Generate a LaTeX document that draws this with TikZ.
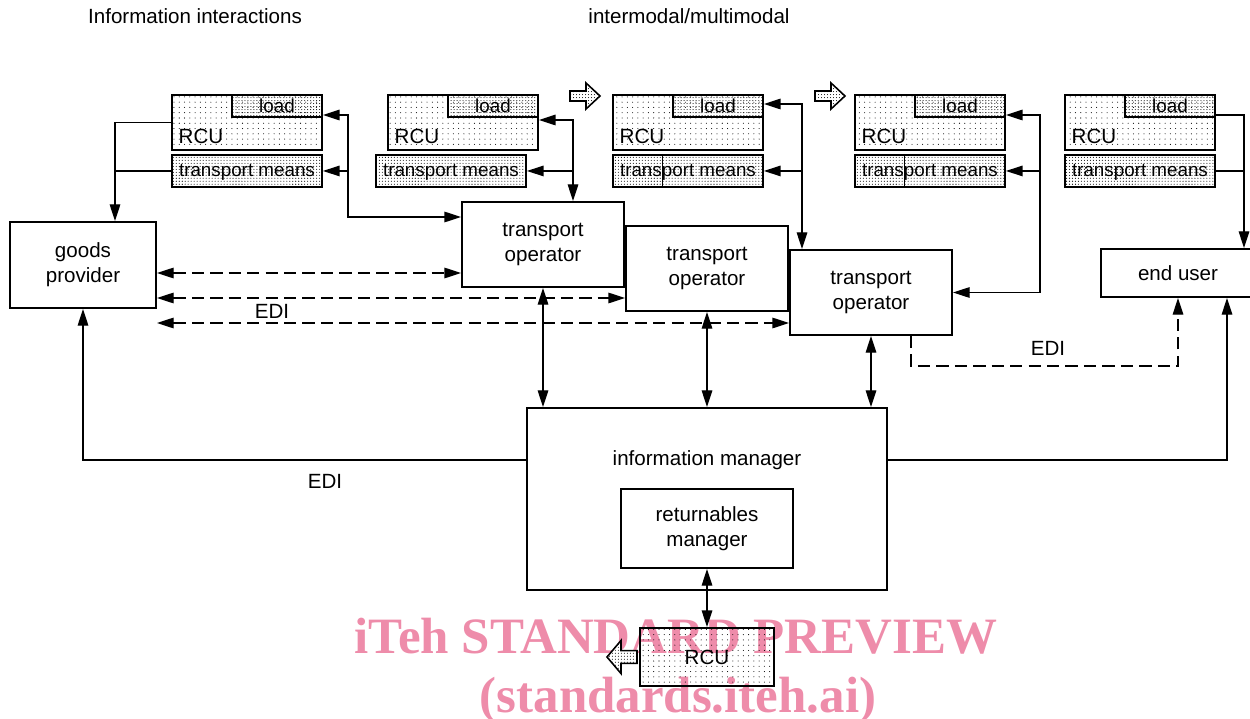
\documentclass[tikz,border=0pt]{standalone}
\usepackage{fontspec}
\setmainfont{Liberation Sans}
\newfontfamily\markfont{Liberation Serif}
\usetikzlibrary{arrows.meta,patterns.meta,calc}
\definecolor{markpink}{RGB}{238,140,170}

\begin{document}
\begin{tikzpicture}[>={Triangle[length=9.5pt,width=6pt]}, line width=0.75pt,
    font=\fontsize{11.7}{14.2}\selectfont,
    mainbox/.style={draw, line width=1.1pt, minimum width=3.24cm, minimum height=1.7cm, align=center, inner sep=0pt},
    rcubox/.style={draw, line width=1.1pt, minimum width=3cm, minimum height=1.1cm, inner sep=0pt, pattern={Dots[distance=3pt,radius=0.3pt]}},
    densebox/.style={draw, line width=1.1pt, inner sep=0pt, pattern={Dots[distance=1.7pt,radius=0.3pt]}, font=\fontsize{10.7}{12}\selectfont},
    edi/.style={dash pattern=on 7pt off 3.5pt},
    bigarrow/.style={draw, line width=0.9pt, fill=white, postaction={pattern={Dots[distance=1.7pt,radius=0.3pt]}}},
    watermark/.style={text=markpink, anchor=base, inner sep=0pt, font=\markfont\bfseries\fontsize{29}{34}\selectfont}]

    \useasboundingbox (0,0) rectangle (25,-14.38);

    \node[watermark] (wm1) at (13.52,-13.06) {iTeh STANDARD PREVIEW};
    \node[watermark] (wm2) at (13.56,-14.24) {(standards.iteh.ai)};

    \node (title1) at (3.90,-0.32) {Information interactions};
    \node (title2) at (13.78,-0.32) {intermodal/multimodal};

    \foreach \n/\x/\m in {1/3.42/3.42, 2/7.74/7.50, 3/12.24/12.24, 4/17.08/17.08, 5/21.28/21.28} {
        \node[rcubox, anchor=north west] (rcu\n) at (\x,-1.88) {};
        \node[anchor=base west, inner sep=0pt] (rcutext\n) at ($(rcu\n.south west)+(0.14,0.15)$) {RCU};
        \node[densebox, anchor=north east, minimum width=1.8cm, minimum height=0.44cm] (load\n) at (rcu\n.north east) {load};
        \node[densebox, anchor=north west, minimum width=3cm, minimum height=0.64cm, text height=6.8pt, text depth=0pt] (means\n) at (\m,-3.08) {transport means};
    }
    \foreach \n in {3,4}
        \draw[line width=0.5pt] ($(means\n.north west)+(1,0)$) -- ($(means\n.south west)+(1,0)$);

    \draw[bigarrow, shift={(11.40,-1.92)}] (0,0.10) -- (0.32,0.10) -- (0.32,0.26) -- (0.60,0) -- (0.32,-0.26) -- (0.32,-0.10) -- (0,-0.10) -- cycle;
    \draw[bigarrow, shift={(16.30,-1.92)}] (0,0.10) -- (0.32,0.10) -- (0.32,0.26) -- (0.60,0) -- (0.32,-0.26) -- (0.32,-0.10) -- (0,-0.10) -- cycle;

    \node[mainbox, minimum width=2.92cm, minimum height=1.72cm] (gp) at (1.66,-5.30) {goods\\provider};
    \node[mainbox] (to1) at (10.86,-4.89) {transport\\operator};
    \node[mainbox] (to2) at (14.14,-5.37) {transport\\operator};
    \node[mainbox] (to3) at (17.42,-5.85) {transport\\operator};
    \node[mainbox, minimum width=3.08cm, minimum height=0.96cm] (eu) at (23.56,-5.46) {end user};
    \node[mainbox, minimum width=7.2cm, minimum height=3.64cm] (im) at (14.14,-9.98) {};
    \node (imtext) at (14.14,-9.20) {information manager};
    \node[mainbox, minimum width=3.44cm, minimum height=1.58cm] (rm) at (14.14,-10.57) {returnables\\manager};
    \node[rcubox, minimum width=2.68cm, minimum height=1.16cm] (rcub) at (14.14,-13.14) {RCU};

    \draw[bigarrow, shift={(12.74,-13.14)}, xscale=-1, yscale=1.27] (0,0.10) -- (0.32,0.10) -- (0.32,0.26) -- (0.60,0) -- (0.32,-0.26) -- (0.32,-0.10) -- (0,-0.10) -- cycle;

    \coordinate (k1) at (2.30,0);
    \coordinate (k2) at (6.96,-4.34);
    \coordinate (k3) at (11.46,0);
    \coordinate (k4) at (16.04,0);
    \coordinate (k5) at (20.80,0);
    \coordinate (k6) at (24.88,0);

    \draw[->] (rcu1.west) -| (gp.north -| k1);
    \draw (means1.west) -- (means1.west -| k1);
    \draw[<->] (rcu1.east |- 0,-2.30) -| (k2) -- (k2 -| to1.west);
    \draw[<-] (means1.east) -- (means1.east -| k2);
    \draw[<->] (rcu2.east |- 0,-2.40) -| (to1.north -| k3);
    \draw[<-] (means2.east) -- (means2.east -| k3);
    \draw[<->] (rcu3.east |- 0,-2.08) -| (to3.north -| k4);
    \draw[<-] (means3.east) -- (means3.east -| k4);
    \draw[<->] (rcu4.east |- 0,-2.30) -| (to3.east -| k5) -- (to3.east);
    \draw[<-] (means4.east) -- (means4.east -| k5);
    \draw[->] (rcu5.east |- 0,-2.30) -| (eu.north -| k6);
    \draw (means5.east) -- (means5.east -| k6);

    \draw[edi,<->] (gp.east |- 0,-5.46) -- (to1.west |- 0,-5.46);
    \draw[edi,<->] (gp.east |- 0,-5.96) -- (to2.west |- 0,-5.96);
    \draw[edi,<->] (gp.east |- 0,-6.46) -- (to3.west |- 0,-6.46);
    \node (edi1) at (5.44,-6.22) {EDI};
    \draw[edi,->] (to3.south -| 18.22,0) |- (eu.south |- 0,-7.32) -- (eu.south);
    \node (edi2) at (20.96,-6.96) {EDI};

    \foreach \t in {to1,to2,to3}
        \draw[<->] (\t.south) -- (\t.south |- im.north);
    \draw[->] (im.west |- 0,-9.20) -| (gp.south);
    \draw[->] (im.east |- 0,-9.20) -| (eu.south -| 24.54,0);
    \node (edi3) at (6.50,-9.62) {EDI};
    \draw[<->] (rm.south) -- (rcub.north);
\end{tikzpicture}
\end{document}
